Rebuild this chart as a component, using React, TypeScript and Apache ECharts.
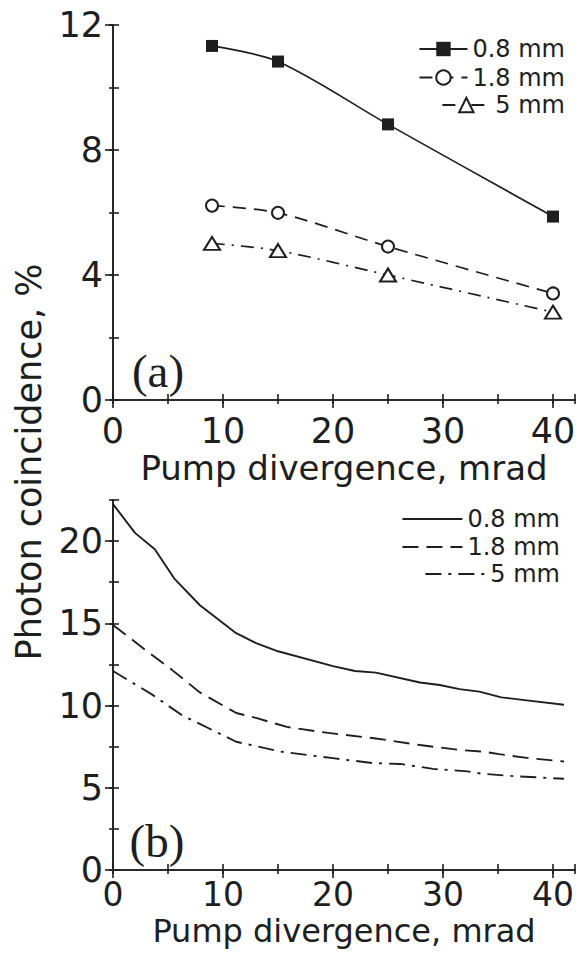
import React, { useEffect, useRef } from 'react';
import * as echarts from 'echarts';

// ---------- data ----------
const sizeNames = ['0.8 mm', '1.8 mm', '5 mm'];

// panel (a): measured points
const xA = [9, 15, 25, 40];
const a08 = [11.33, 10.83, 8.82, 5.87];
const a18 = [6.22, 5.99, 4.91, 3.41];
const a5 = [5.01, 4.78, 4.0, 2.81];

// panel (b): calculated curves
const xB08 = [0, 2, 3.8, 5.6, 7.9, 11.2, 13.0, 15.0, 20.0, 22.0, 23.9, 27.9, 29.7, 31.5, 33.3, 35.3, 37.8, 41.0];
const yB08 = [22.25, 20.5, 19.5, 17.7, 16.1, 14.4, 13.8, 13.3, 12.4, 12.1, 12.0, 11.4, 11.25, 11.0, 10.85, 10.5, 10.3, 10.05];
const xB18 = [0, 3.3, 5.3, 7.9, 11.2, 13.0, 15.8, 18.8, 20.6, 23.9, 27.9, 31.5, 33.6, 35.1, 37.8, 41.0];
const yB18 = [14.9, 13.2, 12.2, 10.8, 9.55, 9.25, 8.7, 8.4, 8.25, 8.0, 7.6, 7.3, 7.2, 7.05, 6.8, 6.6];
const xB5 = [0, 3.6, 6.3, 11.2, 15.2, 20.0, 23.6, 26.1, 29.1, 32.2, 33.6, 36.6, 41.0];
const yB5 = [12.1, 10.65, 9.4, 7.8, 7.2, 6.8, 6.5, 6.45, 6.15, 6.0, 5.85, 5.7, 5.55];

// axis ranges / tick steps
const xRange = [0, 42];
const xStepMajor = 10;
const xStepMinor = 5;
const yRangeA = [0, 12];
const yStepA = 4;
const yRangeB = [0, 22.5];
const yStepB = 5;

const xTitle = 'Pump divergence, mrad';
const yTitle = 'Photon coincidence, %';

const FONT = 'DejaVu Sans';
const INK = '#1e1e1e';

const pairs = (xs: number[], ys: number[]) => xs.map((x, i) => [x, ys[i]]);

export default function App() {
  const ref = useRef<HTMLDivElement>(null);
  useEffect(() => {
    if (!ref.current) return;
    const chart = echarts.init(ref.current, undefined, { renderer: 'svg' });

    const grids = [
      { left: 113, top: 25, width: 462, height: 375 },
      { left: 113, top: 500, width: 462, height: 370 },
    ];
    const yRanges = [yRangeA, yRangeB];
    const ySteps = [yStepA, yStepB];
    const showYMax = [true, false];

    const tickLine = { color: INK, width: 1.6 };
    const axisLine = { show: true, lineStyle: { color: INK, width: 1.6 } };
    const xAxes: any[] = [];
    const yAxes: any[] = [];
    const nameGaps = [51, 45];
    const labelMargins = [13, 8];
    const labelSizes = [35, 33];
    const nameSizes = [34, 32];
    [0, 1].forEach((g) => {
      // bottom major with labels
      xAxes.push({
        gridIndex: g, type: 'value', position: 'bottom', min: xRange[0], max: xRange[1], interval: xStepMajor,
        axisLine, splitLine: { show: false },
        axisTick: { show: true, inside: false, length: 8, lineStyle: tickLine },
        axisLabel: { show: true, showMaxLabel: false, margin: labelMargins[g], fontFamily: FONT, fontSize: labelSizes[g], color: INK },
        name: xTitle, nameLocation: 'middle', nameGap: nameGaps[g],
        nameTextStyle: { fontFamily: FONT, fontSize: nameSizes[g], color: INK },
      });
      // bottom minor ticks
      xAxes.push({
        gridIndex: g, type: 'value', position: 'bottom', min: xRange[0], max: xRange[1], interval: xStepMinor,
        axisLine: { show: false }, splitLine: { show: false },
        axisTick: { show: true, inside: false, length: 4, lineStyle: tickLine },
        axisLabel: { show: false },
      });
      // top
      xAxes.push({
        gridIndex: g, type: 'value', position: 'top', min: xRange[0], max: xRange[1], interval: xStepMinor,
        axisLine, splitLine: { show: false },
        axisTick: { show: true, inside: false, length: 6, lineStyle: tickLine },
        axisLabel: { show: false },
      });
      // left major
      yAxes.push({
        gridIndex: g, type: 'value', position: 'left', min: yRanges[g][0], max: yRanges[g][1], interval: ySteps[g],
        axisLine, splitLine: { show: false },
        axisTick: { show: true, inside: false, length: 8, lineStyle: tickLine },
        axisLabel: { show: true, showMaxLabel: showYMax[g], margin: 10, fontFamily: FONT, fontSize: 35, color: INK },
      });
      // left minor ticks
      yAxes.push({
        gridIndex: g, type: 'value', position: 'left', min: yRanges[g][0], max: yRanges[g][1], interval: ySteps[g] / 2,
        axisLine: { show: false }, splitLine: { show: false },
        axisTick: { show: true, inside: false, length: 4, lineStyle: tickLine },
        axisLabel: { show: false },
      });
      // right
      yAxes.push({
        gridIndex: g, type: 'value', position: 'right', min: yRanges[g][0], max: yRanges[g][1], interval: ySteps[g] / 2,
        axisLine, splitLine: { show: false },
        axisTick: { show: true, inside: false, length: 6, lineStyle: tickLine },
        axisLabel: { show: false },
      });
    });

    const nameA = sizeNames.map((n) => '(a) ' + n);
    const nameB = sizeNames.map((n) => '(b) ' + n);

    const seriesA = [
      { name: nameA[0], data: pairs(xA, a08), symbol: 'rect', symbolSize: 12, smooth: 0.3,
        lineStyle: { color: INK, width: 1.7, type: 'solid' }, itemStyle: { color: INK } },
      { name: nameA[1], data: pairs(xA, a18), symbol: 'emptyCircle', symbolSize: 12, smooth: 0.3,
        lineStyle: { color: INK, width: 1.7, type: [13, 8] }, itemStyle: { color: INK, borderWidth: 1.6 } },
      { name: nameA[2], data: pairs(xA, a5), symbol: 'emptyTriangle', symbolSize: [16, 13], smooth: 0.3,
        lineStyle: { color: INK, width: 1.7, type: [13, 7, 2, 7] }, itemStyle: { color: INK, borderWidth: 1.6 } },
    ].map((s) => ({ ...s, type: 'line', xAxisIndex: 0, yAxisIndex: 0, showSymbol: true }));

    const seriesB = [
      { name: nameB[0], data: pairs(xB08, yB08), lineStyle: { color: INK, width: 1.9, type: 'solid' } },
      { name: nameB[1], data: pairs(xB18, yB18), lineStyle: { color: INK, width: 1.9, type: [16, 8] } },
      { name: nameB[2], data: pairs(xB5, yB5), lineStyle: { color: INK, width: 1.9, type: [16, 7, 3, 7] } },
    ].map((s) => ({ ...s, type: 'line', xAxisIndex: 3, yAxisIndex: 3, symbol: 'none', showSymbol: false,
      itemStyle: { color: INK } }));

    const legendBase = {
      orient: 'horizontal', padding: 0, itemGap: 0, selectedMode: false,
      textStyle: { fontFamily: FONT, fontSize: 24, color: INK },
      formatter: (n: string) => n.slice(4),
    };
    const legendA = [37, 65.5, 93].map((top, i) => ({
      ...legendBase, data: [nameA[i]], right: 14, top, itemWidth: 48, itemHeight: 18,
    }));
    const legendB = [507, 535, 562].map((top, i) => ({
      ...legendBase, data: [nameB[i]], right: 19, top, itemWidth: 60, itemHeight: 18,
      itemStyle: { opacity: 0 },
    }));

    const align = (a: string, v: string) => ({ align: a, verticalAlign: v, textAlign: a, textVerticalAlign: v });

    chart.setOption({
      animation: false,
      backgroundColor: '#ffffff',
      grid: grids,
      xAxis: xAxes,
      yAxis: yAxes,
      legend: [...legendA, ...legendB],
      series: [...seriesA, ...seriesB],
      graphic: [
        { type: 'text', x: 29, y: 462, rotation: Math.PI / 2,
          style: { text: yTitle, fontFamily: FONT, fontSize: 35, fill: INK, ...align('center', 'middle') } },
        { type: 'text', x: 158, y: 371,
          style: { text: '(a)', fontFamily: 'Liberation Serif', fontSize: 47, fill: INK, ...align('center', 'middle') } },
        { type: 'text', x: 157, y: 841,
          style: { text: '(b)', fontFamily: 'Liberation Serif', fontSize: 47, fill: INK, ...align('center', 'middle') } },
      ],
    });
    return () => chart.dispose();
  }, []);
  return (
    <div
      ref={ref}
      style={{ position: 'fixed', left: 0, top: 0, width: 579, height: 954, background: '#fff' }}
    />
  );
}
